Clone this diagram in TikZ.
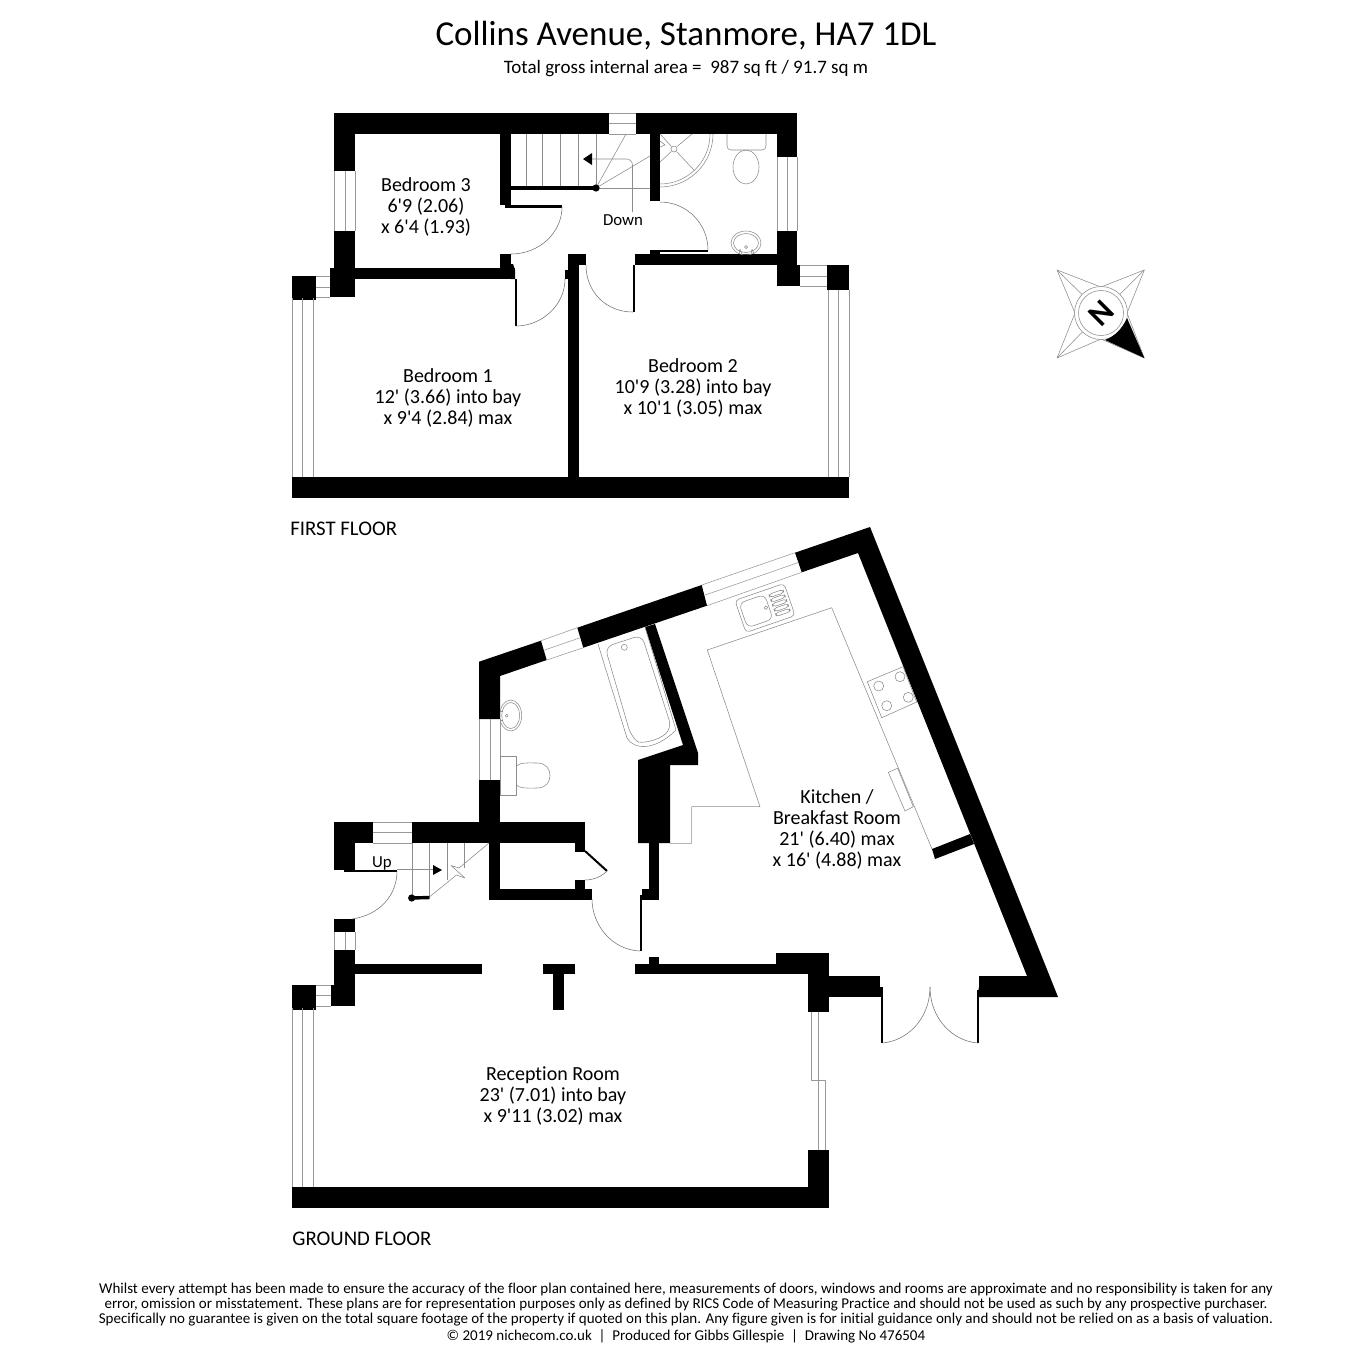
\documentclass[tikz,border=0pt]{standalone}
\usepackage{fontspec}
\setmainfont{Carlito}
\newfontfamily\planfont{Carlito}[Ligatures={NoCommon,NoContextual}]
\tikzset{
	wall/.style={fill=black,draw=none},
	thinline/.style={draw=black!45,line width=0.28pt},
	winline/.style={draw=black!40,line width=0.28pt},
	doorline/.style={draw=black!55,line width=0.28pt},
	doorleaf/.style={draw=black,line width=1pt},
	roomlabel/.style={align=center,font=\planfont\fontsize{10pt}{10.5pt}\selectfont,inner sep=0pt},
	floorlabel/.style={anchor=west,font=\planfont\fontsize{10.4pt}{12pt}\selectfont,inner sep=0pt},
	smallprint/.style={font=\planfont\fontsize{7.5pt}{9pt}\selectfont,inner sep=0pt},
}
\begin{document}
\begin{tikzpicture}[x=0.5pt,y=-0.5pt,line join=round,line cap=butt,>=stealth]
	\useasboundingbox (0,0) rectangle (1350,1350);
	% headings
	\node[inner sep=0pt,font=\planfont\fontsize{17.5pt}{20pt}\selectfont] (title) at (686,36) {Collins Avenue, Stanmore, HA7 1DL};
	\node[inner sep=0pt,font=\planfont\fontsize{9.5pt}{11pt}\selectfont] (area) at (686,69) {Total gross internal area =~~987 sq ft / 91.7 sq m};
	\node[floorlabel] (first) at (290,529) {FIRST FLOOR};
	\node[floorlabel] (ground) at (292,1239) {GROUND FLOOR};
	\node[smallprint] (fineA) at (686,1289) {Whilst every attempt has been made to ensure the accuracy of the floor plan contained here, measurements of doors, windows and rooms are approximate and no responsibility is taken for any};
	\node[smallprint] (fineB) at (686,1305) {error, omission or misstatement. These plans are for representation purposes only as defined by RICS Code of Measuring Practice and should not be used as such by any prospective purchaser.};
	\node[smallprint] (fineC) at (686,1320) {Specifically no guarantee is given on the total square footage of the property if quoted on this plan. Any figure given is for initial guidance only and should not be relied on as a basis of valuation.};
	\node[smallprint] (fineD) at (686,1336) {© 2019 nichecom.co.uk~~|~~Produced for Gibbs Gillespie~~|~~Drawing No 476504};
	% first floor walls
	\fill[wall] (334,113) rectangle (609,134);
	\fill[wall] (636,113) rectangle (797,134);
	\fill[wall] (334,113) rectangle (355,171);
	\fill[wall] (334,231) rectangle (355,270);
	\fill[wall] (330,268) rectangle (355,297);
	\fill[wall] (292,276) rectangle (316,300);
	\fill[wall] (355,268) rectangle (515,279);
	\fill[wall] (500,134) rectangle (511,205);
	\fill[wall] (500,254) rectangle (511,270);
	\fill[wall] (511,264) -- (513,264) -- (515,270) -- (515,279) -- (511,279) -- cycle;
	\fill[wall] (568,254) rectangle (586,265);
	\fill[wall] (568,254) rectangle (579,477);
	\fill[wall] (565,270) rectangle (568,279);
	\fill[wall] (635,254) rectangle (797,265);
	\fill[wall] (650,250) rectangle (660,254);
	\fill[wall] (650,134) rectangle (660,201);
	\fill[wall] (777,113) rectangle (797,157);
	\fill[wall] (777,231) rectangle (797,286);
	\fill[wall] (797,265) rectangle (800,286);
	\fill[wall] (827,265) rectangle (849,290);
	\fill[wall] (292,477) rectangle (849,498);
	% first floor windows
	\foreach \y in {113,123,134} \draw[winline] (609,\y)--(636,\y);
	\foreach \x in {334,345,355} \draw[winline] (\x,171)--(\x,231);
	\foreach \x in {777,787,797} \draw[winline] (\x,157)--(\x,231);
	\foreach \y in {265,276,286} \draw[winline] (800,\y)--(827,\y);
	\foreach \y in {276,287,297} \draw[winline] (316,\y)--(330,\y);
	\foreach \x in {292,302,313} \draw[winline] (\x,298)--(\x,477);
	\foreach \x in {828,838,849} \draw[winline] (\x,290)--(\x,477);
	% first floor doors
	\fill[black] (505,205) rectangle (562,207.5);
	\fill[black] (514.7,279) rectangle (516.5,326);
	\fill[black] (633,265) rectangle (635,312);
	\fill[black] (660,250) rectangle (708,251.5);
	\draw[doorline] (562,207) .. controls (562,232) and (540,254) .. (511,254);
	\draw[doorline] (516,326) .. controls (542,326) and (565,305) .. (565,279);
	\draw[doorline] (586,265) .. controls (586,292) and (606,312) .. (633,312);
	\draw[doorline] (660,202) .. controls (687,202) and (708,224) .. (708,250);
	% first floor stairs
	\foreach \x in {526,542,560,578,596} \draw[thinline] (\x,134)--(\x,188);
	\draw[thinline] (596,188)--(650,188);
	\draw[thinline] (596,188)--(626,134);
	\draw[thinline] (596,188)--(650,156);
	\draw[line width=1.7pt] (511,188)--(596,188);
	\fill (596,188) circle (3.6);
	\draw[thinline,rounded corners=3pt] (592,159)--(632.5,159)--(632.5,212);
	\fill (583,159) -- (592,153) -- (592,165) -- cycle;
	\draw[thinline] (660,141)--(665,145)--(660,147);
	% first floor bathroom
	\begin{scope}
		\clip (660,134) rectangle (720,190);
		\draw[thinline] (660,134) circle (50);
		\draw[thinline] (660,134) circle (53);
	\end{scope}
	\draw[thinline] (660,134)--(671.5,146.5) (676.5,151.5)--(694,170);
	\draw[thinline] (692,134)--(677,146.5) (671.5,151.5)--(660,162);
	\draw[thinline] (674,149) circle (3);
	\draw[thinline,rounded corners=2pt] (727,134) -- (727,150) -- (766,150) -- (766,134);
	\draw[thinline] (746,167) ellipse (13 and 17);
	\begin{scope}
		\clip (725,225) rectangle (770,254);
		\draw[thinline] (746,243) ellipse (15 and 12);
		\draw[thinline] (746,243) ellipse (12.5 and 9.5);
		\draw[thinline] (746,247) circle (1.6);
		\draw[thinline] (739,254)--(740,249) (742,254)--(740,249) (751,254)--(752,249) (754,254)--(752,249);
	\end{scope}
	% first floor labels
	\node[roomlabel] (bedroomthree) at (426,207) {Bedroom 3\\6'9 (2.06)\\x 6'4 (1.93)};
	\node[roomlabel] (bedroomone) at (448,398) {Bedroom 1\\12' (3.66) into bay\\x 9'4 (2.84) max};
	\node[roomlabel] (bedroomtwo) at (693,388) {Bedroom 2\\10'9 (3.28) into bay\\x 10'1 (3.05) max};
	\node[inner sep=0pt,font=\planfont\fontsize{8.4pt}{10pt}\selectfont] (down) at (623,220) {Down};
	% ground floor walls
	\fill[wall] (334,822) rectangle (373,843);
	\fill[wall] (412,822) rectangle (585,843);
	\fill[wall] (334,822) rectangle (355,870);
	\fill[wall] (344,870) rectangle (397,871.5);
	\fill[wall] (334,919) rectangle (355,932);
	\fill[wall] (334,950) rectangle (355,1006);
	\fill[wall] (330.5,985) rectangle (355,1006);
	\fill[wall] (292,985) rectangle (316,1010);
	\fill[wall] (355,964) rectangle (482,974);
	\fill[wall] (543,964) rectangle (575,974);
	\fill[wall] (553,964) rectangle (564,1010);
	\fill[wall] (635,964) rectangle (808,974);
	\fill[wall] (649,957) rectangle (659,964);
	\fill[wall] (776,953) rectangle (829,974);
	\fill[wall] (808,953) rectangle (829,1012);
	\fill[wall] (829,976) rectangle (880,997);
	\fill[wall] (880,987) rectangle (882.5,997);
	\fill[wall] (292,1187) rectangle (829,1208);
	\fill[wall] (808,1150) rectangle (829,1208);
	\fill[wall] (489,843) rectangle (500,900);
	\fill[wall] (489,889) rectangle (592,900);
	\fill[wall] (575,843) rectangle (585,852);
	\fill[wall] (575,880) rectangle (585,889);
	\fill[wall] (479,780) rectangle (500,843);
	\fill[wall] (479,661.7) -- (541,640.7) -- (546.7,660) -- (500,676) -- (500,719) -- (479,719) -- cycle;
	\fill[wall] (577.3,627.7) -- (701.7,585) -- (707,605.7) -- (583.3,647.7) -- cycle;
	\fill[wall] (795,552.7) -- (870,527) -- (1058,997) -- (977,997) -- (979,987) -- (979,976) -- (1027,976) -- (858,553) -- (801.7,572.3) -- cycle;
	\fill[wall] (645,627) -- (655,624) -- (698,753) -- (698,765) -- (670,765) -- (670,843) -- (638,843) -- (638,760) -- (683,745) -- cycle;
	\fill[wall] (649,843) rectangle (659,900);
	\fill[wall] (642,889) rectangle (649,900);
	\fill[wall] (932,849) -- (970,834) -- (974,844) -- (935,859) -- cycle;
	% ground floor windows
	\foreach \y in {822,832.5,843} \draw[winline] (373,\y)--(412,\y);
	\foreach \x in {334,345,355} \draw[winline] (\x,932)--(\x,950);
	\foreach \y in {985,995.5,1006} \draw[winline] (316,\y)--(330.5,\y);
	\foreach \x in {292,302,313} \draw[winline] (\x,1008)--(\x,1187);
	\foreach \x in {479,490,500} \draw[winline] (\x,719)--(\x,780);
	\draw[winline] (541,640.7)--(577.3,627.7) (543.8,650.3)--(580.3,637.7) (546.7,660)--(583.3,647.7);
	\draw[winline] (701.7,585)--(795,552.7) (704.3,595.3)--(798.3,562.5) (707,605.7)--(801.7,572.3);
	\draw[winline] (811.7,1012)--(811.7,1080)--(825,1080)--(825,1150) (818.3,1012)--(818.3,1150);
	% ground floor doors
	\fill[black] (640,895) rectangle (642,951);
	\fill[black] (880.8,997) rectangle (882.6,1043);
	\fill[black] (977.3,990) rectangle (979,1043);
	\draw[doorline] (397,871) .. controls (397,895) and (380,915) .. (352,919);
	\draw[doorline] (640,951) .. controls (612,950) and (592,925) .. (592,899);
	\draw[doorline] (882,1043) .. controls (908,1041) and (930,1018) .. (930,987);
	\draw[doorline] (978,1043) .. controls (952,1041) and (930,1018) .. (930,987);
	\draw[doorleaf] (585,851) -- (607,871);
	\draw[doorline] (607,871) .. controls (601,877) and (593,880) .. (585,880);
	% ground floor stairs
	\foreach \x in {412,429.5} \draw[thinline] (\x,843)--(\x,897);
	\draw[thinline] (447,843)--(447,880) (464.7,843)--(464.7,868);
	\draw[thinline] (397,869.5)--(433,869.5);
	\fill (442,870) -- (433,865) -- (433,875) -- cycle;
	\draw[thinline] (429.3,897)--(456.5,875)--(465,878)--(451,865.5)--(459,868)--(489,843);
	\draw[line width=1.7pt] (412,898)--(429.5,897.5);
	\fill (411.7,898) circle (3.6);
	% ground floor bathroom
	\draw[thinline] (598,644) -- (627,738) .. controls (634,750) and (655,751) .. (676,730) -- (645,627);
	\draw[thinline,rounded corners=4pt] (605,647) -- (641.7,635) -- (671.7,728) .. controls (658,741) and (640,744) .. (631,736) -- cycle;
	\draw[thinline] (624.3,647.3) circle (3);
	\begin{scope}
		\clip (500,695) rectangle (526,735);
		\draw[thinline] (510.7,715.5) ellipse (11 and 15.5);
		\draw[thinline] (510.7,715.5) ellipse (9 and 13);
		\draw[thinline] (506.7,715.7) circle (1.5);
		\draw[thinline] (500,711)--(503,711) (500,720)--(503,720);
	\end{scope}
	\draw[thinline] (500,756.3) rectangle (516.3,795.3);
	\draw[thinline] (516.3,767) .. controls (518,762) and (530,763) .. (537,763) .. controls (546,763) and (550,769) .. (550,775.5) .. controls (550,782) and (546,788) .. (537,788) .. controls (530,788) and (518,789) .. (516.3,784);
	% kitchen fittings
	\draw[thinline] (670,843.3)--(691.7,843.3)--(691.7,806.7)--(760,806.7)--(707.3,650)--(831.7,607.7)--(932,849);
	\begin{scope}[shift={(765,608)},rotate=19]
		\draw[thinline,rounded corners=2pt] (-26,-17) rectangle (26,17);
		\draw[thinline,rounded corners=3pt] (-23,-13) rectangle (4,13);
		\draw[thinline] (1,0) circle (1.8);
		\foreach \x in {-10,-5,0,5,10}
		\draw[thinline,rounded corners=1.5pt] (8,\x-1.7) rectangle (23,\x+1.7);
	\end{scope}
	\draw[thinline] (867.3,681.7)--(903,666.7)--(916.7,702)--(881.7,717.7)--cycle;
	\foreach \x/\y in {878.7/686,900/676.7,886.7/705.7,908.3/697.3}
	\draw[thinline] (\x,\y) circle (5);
	\draw[thinline] (888.3,772.3)--(897.7,768.3)--(913.3,806.7)--(905,811)--cycle;
	% ground floor labels
	\node[roomlabel] (kitchen) at (837,829) {Kitchen /\\Breakfast Room\\21' (6.40) max\\x 16' (4.88) max};
	\node[roomlabel] (reception) at (553,1096) {Reception Room\\23' (7.01) into bay\\x 9'11 (3.02) max};
	\node[inner sep=0pt,font=\planfont\fontsize{8.4pt}{10pt}\selectfont] (up) at (382,863) {Up};
	% compass
	\coordinate (cen) at (1101,313);
	\draw[thinline] (1057,270) -- (1101,287) -- (1144.3,270) -- (1127,313) -- (1144.3,358) -- (1101,339) -- (1057,358) -- (1075,313) -- cycle;
	\foreach \a/\b in {1057/270,1144.3/270,1057/358}
	\draw[thinline] (\a,\b) -- (cen);
	\fill[white] (cen) circle (26.5);
	\draw[thinline] (cen) circle (26.5);
	\draw[thinline] (cen) circle (22.5);
	\fill (1144.3,358) -- (1127,318) .. controls (1122,329) and (1115,336) .. (1105,340) -- cycle;
	\node[inner sep=0pt,rotate=-135,font=\planfont\fontsize{16pt}{18pt}\selectfont\bfseries] (north) at (cen) {N};
\end{tikzpicture}
\end{document}
